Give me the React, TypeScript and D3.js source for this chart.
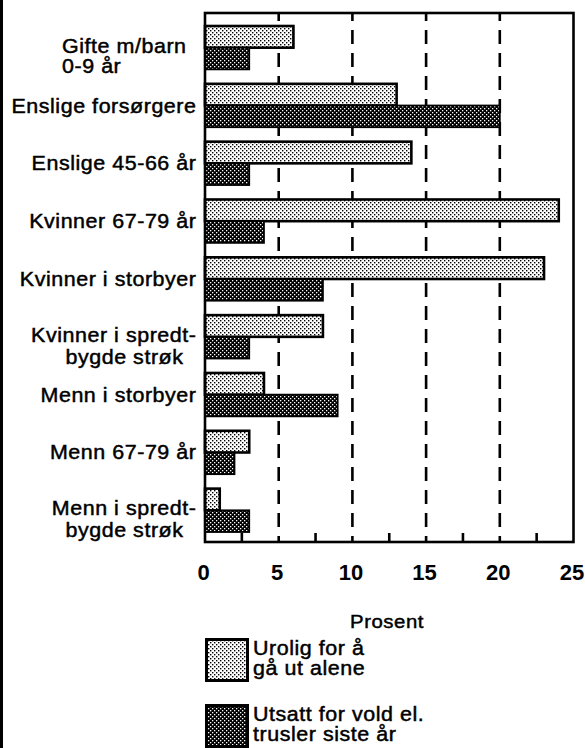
import React from "react";
import * as d3 from "d3";

const categories = [
  "Gifte m/barn\n0-9 år",
  "Enslige forsørgere",
  "Enslige 45-66 år",
  "Kvinner 67-79 år",
  "Kvinner i storbyer",
  "Kvinner i spredt-\nbygde strøk",
  "Menn i storbyer",
  "Menn 67-79 år",
  "Menn i spredt-\nbygde strøk",
];
const urolig = [6, 13, 14, 24, 23, 8, 4, 3, 1];
const utsatt = [3, 20, 3, 4, 8, 3, 9, 2, 3];
const xTickValues = [0, 5, 10, 15, 20, 25];
const gridValues = [5, 10, 15, 20];
const bottomTickValues = [2.5, 7.5, 12.5, 17.5, 22.5];
const seriesKeys = ["urolig", "utsatt"];
const seriesLabels = [
  ["Urolig for å", "gå ut alene"],
  ["Utsatt for vold el.", "trusler siste år"],
];
const axisTitle = "Prosent";

const W = 585;
const H = 748;
const FONT = "'Liberation Sans', Arial, Helvetica, sans-serif";
const SX = 1.1;

function STxt(props: {
  x: number;
  y: number;
  anchor?: "start" | "middle" | "end";
  size?: number;
  spacing?: number;
  children: React.ReactNode;
}) {
  const { x, y, anchor = "start", size = 19.5, spacing = 0.5, children } = props;
  return (
    <text
      transform={`translate(${x},${y}) scale(${SX},1)`}
      textAnchor={anchor}
      fontSize={size}
      letterSpacing={spacing}
      fill="#000"
      stroke="#000"
      strokeWidth={0.45}
    >
      {children}
    </text>
  );
}

export default function App() {
  const left = 205;
  const right = 573.5;
  const top = 13;
  const bottom = 542;

  const x = d3.scaleLinear().domain([0, 25]).range([left, right]);
  const y = d3
    .scaleBand<string>()
    .domain(categories)
    .range([26, 532])
    .paddingInner(0.25)
    .paddingOuter(0);
  const sub = d3
    .scaleBand<string>()
    .domain(seriesKeys)
    .range([0, y.bandwidth()]);

  const leftAligned = new Set([categories[0]]);
  const labelEnd = 196.5;

  return (
    <>
      <style>{`body{margin:0}`}</style>
      <svg width={W} height={H} style={{ display: "block" }} fontFamily={FONT}>
        <defs>
          <pattern id="lightPat" width="4" height="4" patternUnits="userSpaceOnUse">
            <rect width="4" height="4" fill="#fff" />
            <rect x="0" y="0" width="1.4" height="1.4" fill="#000" />
            <rect x="2" y="2" width="1.4" height="1.4" fill="#000" />
          </pattern>
          <pattern id="darkPat" width="4" height="4" patternUnits="userSpaceOnUse">
            <rect width="4" height="4" fill="#000" />
            <rect x="0" y="0" width="1.3" height="1.3" fill="#fff" />
            <rect x="2" y="2" width="1.3" height="1.3" fill="#fff" />
          </pattern>
        </defs>
        <rect x={0} y={0} width={W} height={H} fill="#fff" />
        {/* scan edge line */}
        <rect x={0} y={0} width={3} height={H} fill="#000" />

        {/* dashed grid */}
        {gridValues.map((v) => (
          <line
            key={"g" + v}
            x1={x(v)}
            x2={x(v)}
            y1={top}
            y2={bottom}
            stroke="#000"
            strokeWidth={2.6}
            strokeDasharray="14 9"
            strokeDashoffset={6}
          />
        ))}

        {/* bottom ticks */}
        {bottomTickValues.map((v) => (
          <line
            key={"t" + v}
            x1={x(v)}
            x2={x(v)}
            y1={bottom - 9}
            y2={bottom}
            stroke="#000"
            strokeWidth={2.6}
          />
        ))}

        {/* bars */}
        {categories.map((c, i) => {
          const y0 = y(c)!;
          const h = sub.bandwidth();
          return (
            <g key={c}>
              <rect
                x={x(0)}
                y={y0 + sub("urolig")!}
                width={x(urolig[i]) - x(0)}
                height={h}
                fill="url(#lightPat)"
                stroke="#000"
                strokeWidth={2.6}
              />
              <rect
                x={x(0)}
                y={y0 + sub("utsatt")!}
                width={x(utsatt[i]) - x(0)}
                height={h}
                fill="url(#darkPat)"
                stroke="#000"
                strokeWidth={1.8}
              />
            </g>
          );
        })}

        {/* frame */}
        <rect
          x={left}
          y={top}
          width={right - left}
          height={bottom - top}
          fill="none"
          stroke="#000"
          strokeWidth={2.6}
        />

        {/* category labels */}
        {categories.map((c) => {
          const lines = c.split("\n");
          const cy = y(c)! + y.bandwidth() / 2;
          if (lines.length === 1) {
            return (
              <STxt key={c} x={labelEnd} y={cy + 7} anchor="end">
                {lines[0]}
              </STxt>
            );
          }
          if (leftAligned.has(c)) {
            return (
              <g key={c}>
                <STxt x={62} y={cy + 5}>{lines[0]}</STxt>
                <STxt x={62} y={cy + 25}>{lines[1]}</STxt>
              </g>
            );
          }
          return (
            <g key={c}>
              <STxt x={labelEnd} y={cy + 5} anchor="end">
                {lines[0]}
              </STxt>
              <STxt x={labelEnd - 13} y={cy + 27} anchor="end">
                {lines[1]}
              </STxt>
            </g>
          );
        })}

        {/* x tick labels */}
        {xTickValues.map((v) => (
          <text
            key={"l" + v}
            x={x(v) - 1.5}
            y={580}
            textAnchor="middle"
            fontSize={22}
            fontWeight="bold"
            fill="#000"
          >
            {v}
          </text>
        ))}

        {/* axis title */}
        <STxt x={387} y={628} anchor="middle" size={18.5} spacing={0.5}>
          {axisTitle}
        </STxt>

        {/* legend */}
        {seriesKeys.map((k, i) => {
          const by = i === 0 ? 638 : 704;
          return (
            <g key={k}>
              <rect
                x={206.5}
                y={by + 1.5}
                width={41}
                height={41}
                fill={i === 0 ? "url(#lightPat)" : "url(#darkPat)"}
                stroke="#000"
                strokeWidth={3}
              />
              {seriesLabels[i].map((t, j) => (
                <STxt key={t} x={253} y={by + 17 + j * 20}>
                  {t}
                </STxt>
              ))}
            </g>
          );
        })}
      </svg>
    </>
  );
}
